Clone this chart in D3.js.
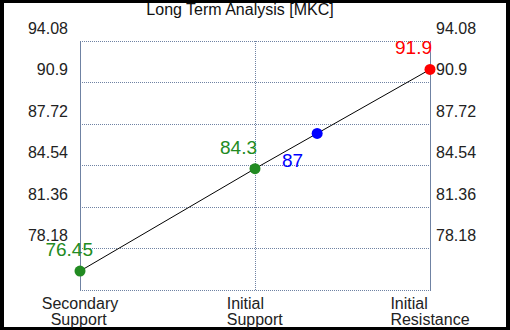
<!DOCTYPE html>
<html>
<head>
<meta charset="utf-8">
<script src="https://cdn.jsdelivr.net/npm/d3@7"></script>
<style>
  body { margin: 0; background: #000; }
  text { font-family: "Liberation Sans", Arial, sans-serif; }
</style>
</head>
<body>
<div id="chart"></div>
<script>
// chart data
var categories = ["Secondary\n  Support", "Initial\nSupport", "Initial\nResistance"];
var levels = [76.45, 84.3, 91.9];
var levelColors = ["#228b22", "#228b22", "#ff0000"];
var currentPrice = 87;
var tickValues = [94.08, 90.9, 87.72, 84.54, 81.36, 78.18];
var yMin = 75, yMax = 94.08;

var W = 510, H = 330;
var plotL = 80, plotR = 430, plotT = 41, plotB = 290;
var gridColor = "#6f82a3";

var svg = d3.select("#chart").append("svg").attr("width", W).attr("height", H);
svg.append("rect").attr("width", W).attr("height", H).attr("fill", "#000");
svg.append("rect").attr("x", 4).attr("y", 3).attr("width", 502).attr("height", 324).attr("fill", "#fff");

var x = d3.scaleLinear().domain([0, categories.length - 1]).range([plotL, plotR]);
var y = d3.scaleLinear().domain([yMin, yMax]).range([plotB, plotT]);

// horizontal grid (dotted)
svg.append("g").selectAll("line").data(tickValues.concat([yMin])).enter().append("line")
  .attr("x1", plotL).attr("x2", plotR)
  .attr("y1", function(d){ return Math.round(y(d)) + 0.5; })
  .attr("y2", function(d){ return Math.round(y(d)) + 0.5; })
  .attr("stroke", gridColor).attr("stroke-dasharray", "1,1");

// vertical grid in the middle
svg.append("g").selectAll("line").data(d3.range(1, categories.length - 1)).enter().append("line")
  .attr("x1", function(d){ return x(d) + 0.5; }).attr("x2", function(d){ return x(d) + 0.5; })
  .attr("y1", plotT).attr("y2", plotB)
  .attr("stroke", gridColor).attr("stroke-dasharray", "1,1");

// side axes
[plotL, plotR].forEach(function(px){
  svg.append("line").attr("x1", px + 0.5).attr("x2", px + 0.5).attr("y1", plotT).attr("y2", plotB + 1)
    .attr("stroke", gridColor);
});

// tick labels both sides
var axL = d3.axisLeft(y).tickValues(tickValues).tickSize(0).tickPadding(12).tickFormat(function(d){ return d; });
var axR = d3.axisRight(y).tickValues(tickValues).tickSize(0).tickPadding(6).tickFormat(function(d){ return d; });
[[axL, plotL], [axR, plotR]].forEach(function(a){
  var g = svg.append("g").attr("transform", "translate(" + a[1] + ",0)").call(a[0]);
  g.select(".domain").remove();
  g.selectAll("text").attr("dy", "-0.5em").attr("fill", "#222")
    .style("font-size", "16px").style("font-family", "'Liberation Sans', Arial, sans-serif");
});

// x labels
var xl = svg.append("g");
categories.forEach(function(c, i){
  var lines = c.split("\n");
  var t = xl.append("text").attr("font-size", 16).attr("fill", "#222").style("white-space", "pre");
  lines.forEach(function(s, k){
    t.append("tspan").attr("x", 0).attr("y", 309 + k * 16).text(s);
  });
  var w = t.node().getBBox().width;
  t.attr("transform", "translate(" + (x(i) - w / 2) + ",0)");
});

// line through levels
svg.append("path").datum(levels)
  .attr("d", d3.line().x(function(d, i){ return x(i); }).y(function(d){ return y(d); }))
  .attr("fill", "none").attr("stroke", "#000").attr("stroke-width", 1);

// level points
svg.append("g").selectAll("circle").data(levels).enter().append("circle")
  .attr("cx", function(d, i){ return x(i); }).attr("cy", function(d){ return y(d); })
  .attr("r", 5.5).attr("fill", function(d, i){ return levelColors[i]; });

var labelDx = [13, 2, 2];
svg.append("g").selectAll("text").data(levels).enter().append("text")
  .attr("x", function(d, i){ return x(i) + labelDx[i]; })
  .attr("y", function(d){ return y(d) - 15; })
  .attr("text-anchor", "end").attr("font-size", 19)
  .attr("fill", function(d, i){ return levelColors[i]; })
  .text(function(d){ return d; });

// current price on the line
var seg = d3.bisectRight(levels, currentPrice) - 1;
var cxIdx = seg + (currentPrice - levels[seg]) / (levels[seg + 1] - levels[seg]);
svg.append("circle").attr("cx", x(cxIdx)).attr("cy", y(currentPrice)).attr("r", 5.5).attr("fill", "#0000ff");
svg.append("text").attr("x", x(cxIdx) - 14).attr("y", y(currentPrice) + 34)
  .attr("text-anchor", "end").attr("font-size", 19).attr("fill", "#0000ff").text(currentPrice);

// title
svg.append("text").attr("x", 240).attr("y", 15).attr("text-anchor", "middle")
  .attr("font-size", 16).attr("fill", "#111").text("Long Term Analysis [MKC]");
</script>
</body>
</html>
